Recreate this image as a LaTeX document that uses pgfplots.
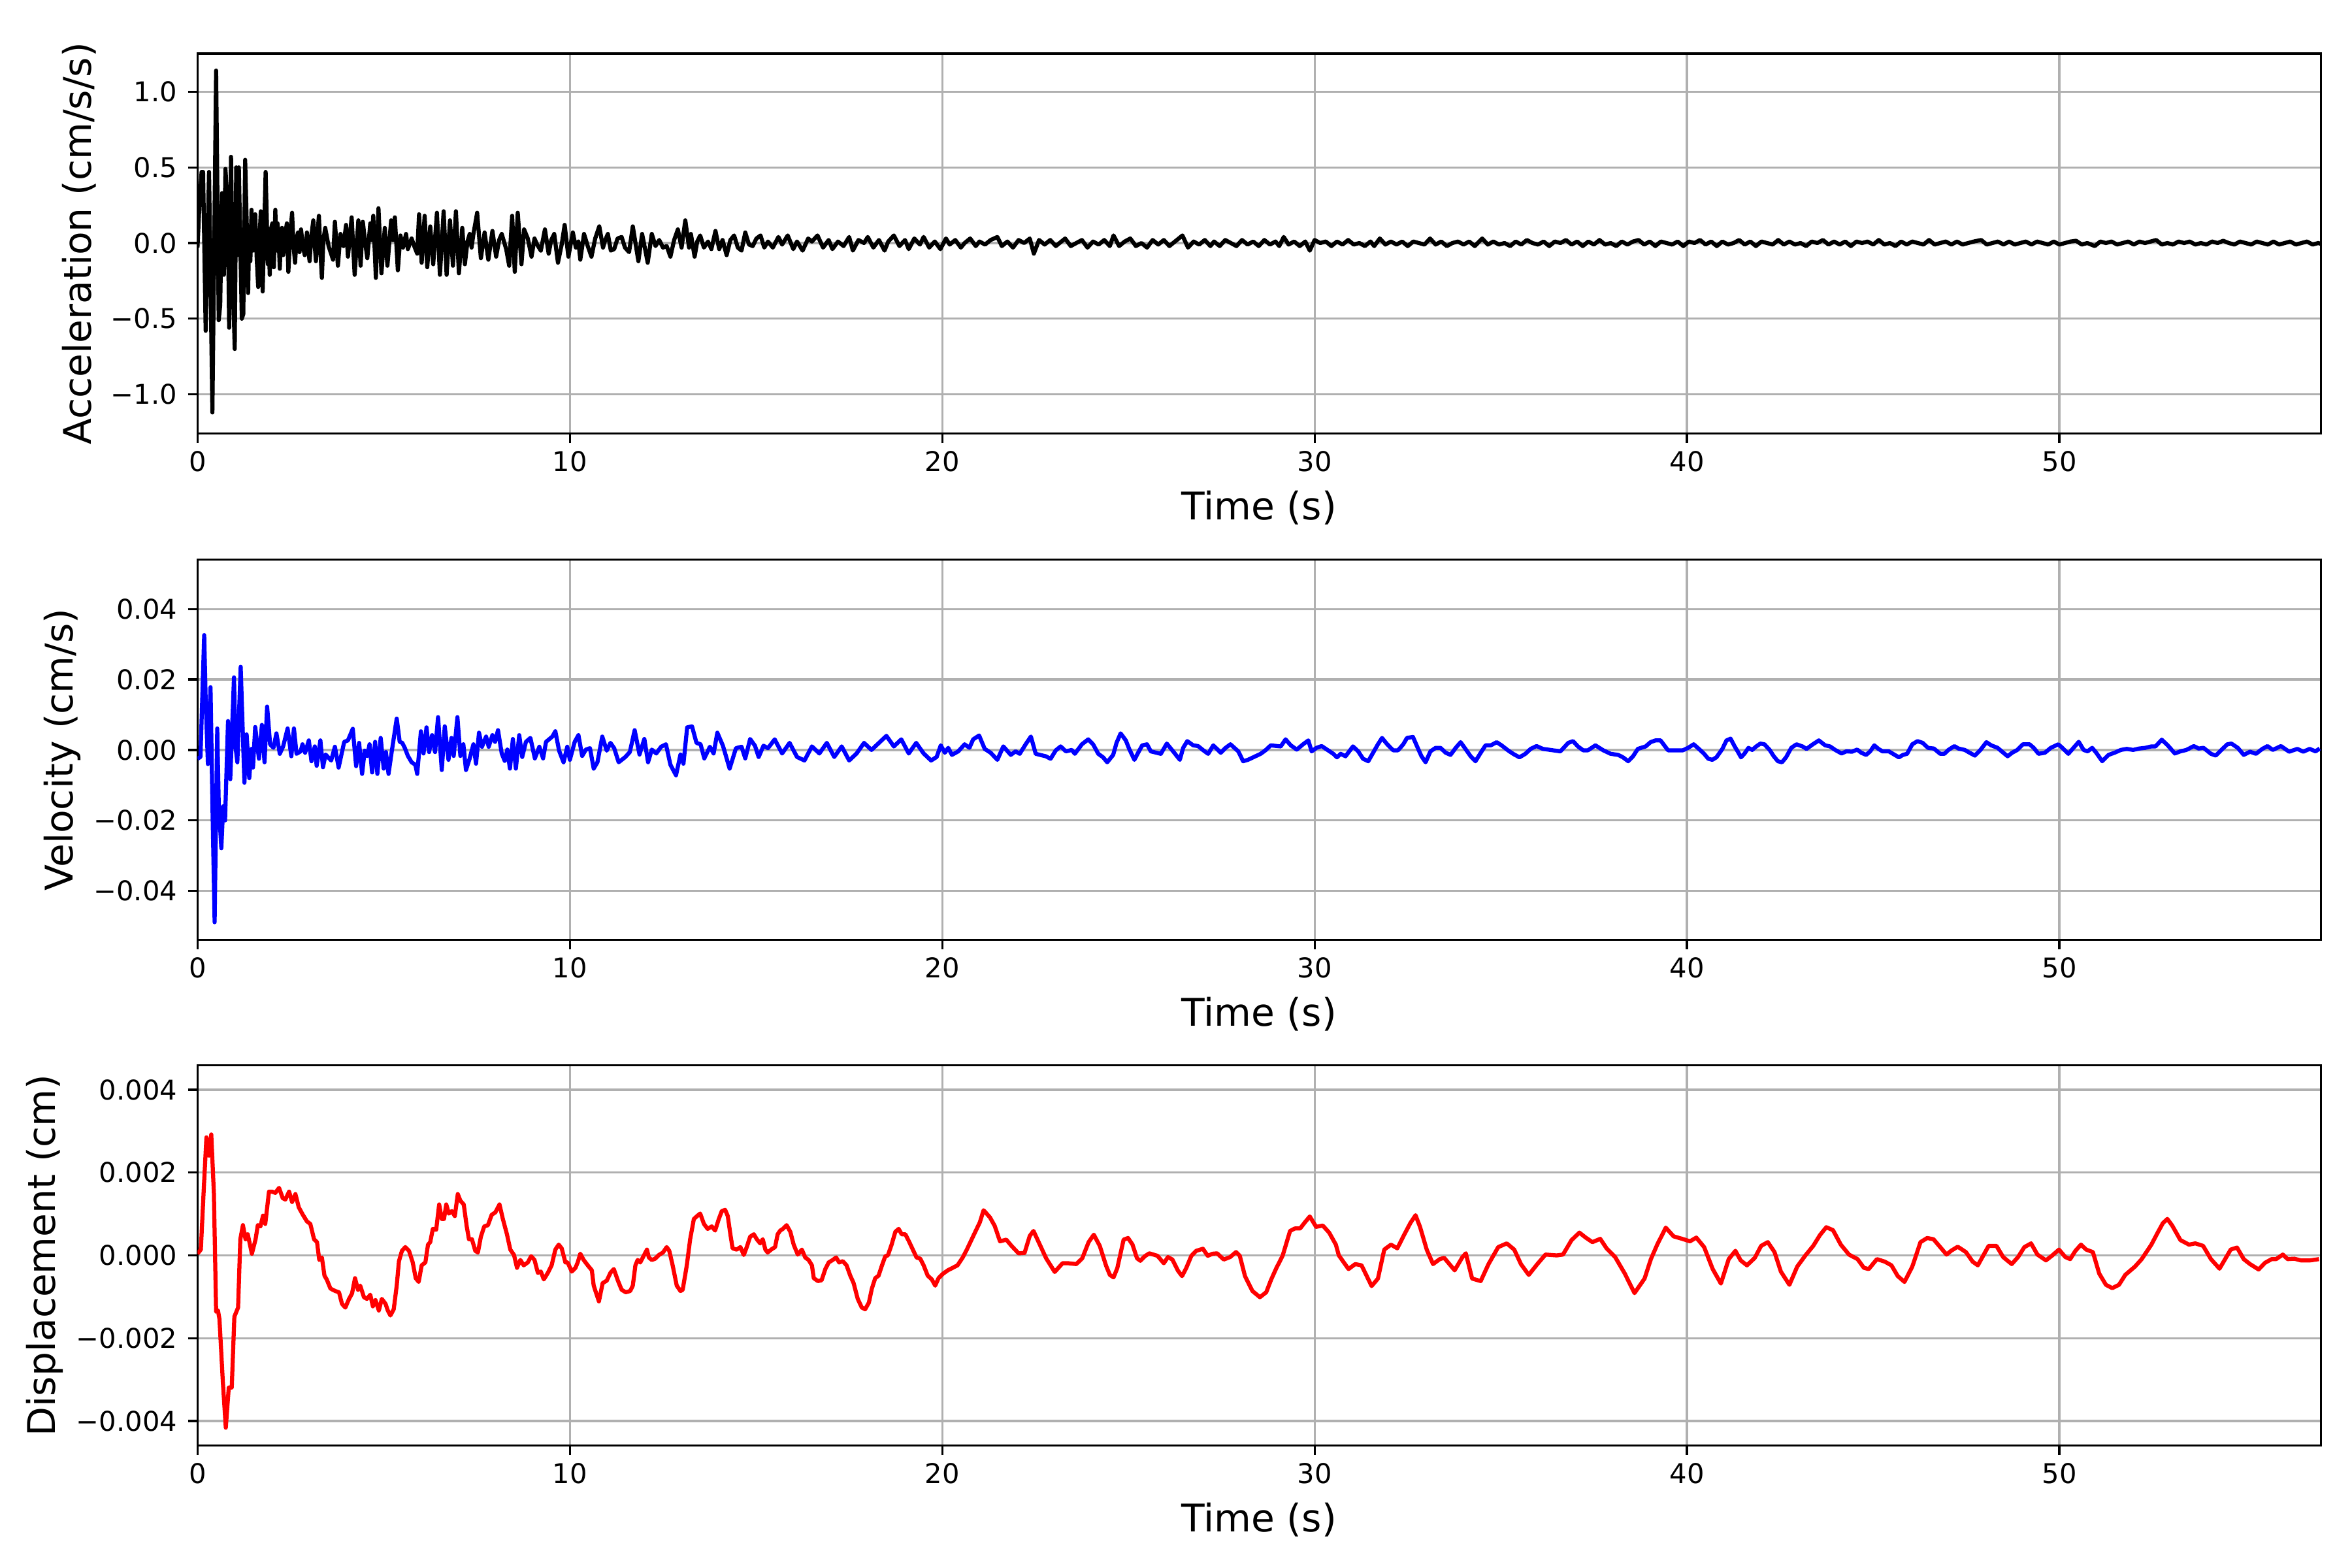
\documentclass[border=0pt]{standalone}
\usepackage{fontspec}
\setmainfont{DejaVu Sans}
\usepackage{pgfplots}
\pgfplotsset{compat=1.18}
\definecolor{gridgray}{HTML}{B0B0B0}
\pgfplotsset{
  mpl/.style={
    scale only axis, width=779.98bp, height=139.66bp,
    anchor=south west,
    xmin=0, xmax=57.02,
    axis line style={line width=0.8bp, black},
    xtick={0,10,20,30,40,50}, xticklabels={0,10,20,30,40,50},
    xtick pos=left, ytick pos=left,
    scaled y ticks=false, scaled x ticks=false,
    tick align=outside, major tick length=3.5bp,
    tick style={line width=0.8bp, black},
    grid=major, grid style={line width=0.8bp, gridgray},
    tick label style={font=\fontsize{10bp}{12bp}\selectfont},
    xticklabel style={anchor=north, inner sep=0pt, yshift=-2.8bp},
    yticklabel style={anchor=east, inner sep=0pt, xshift=-3.8bp},
    label style={font=\fontsize{14bp}{17bp}\selectfont},
    xlabel={Time (s)},
    xlabel style={at={(axis description cs:0.5,0)}, anchor=north, inner sep=0pt, yshift=-20.8bp},
    ylabel style={anchor=center, inner sep=0pt},
  },
  dat/.style={line width=1.5bp, line join=round}
}
\begin{document}
\begin{tikzpicture}
\path[use as bounding box] (0,0) rectangle (864bp,576bp);

% ---------------- Acceleration ----------------
\begin{axis}[mpl, at={(72.55bp,416.69bp)},
  ymin=-1.26, ymax=1.253,
  ytick={-1,-0.5,0,0.5,1}, yticklabels={−1.0,−0.5,0.0,0.5,1.0},
  ylabel={Acceleration (cm/s/s)},
  ylabel style={at={([xshift=-43.35bp]axis description cs:0,0.5)}}]
\addplot[dat, black] table {
t a
0.00 -0.03
0.05 0.24
0.11 0.47
0.15 0.47
0.22 -0.58
0.31 0.47
0.40 -1.12
0.50 1.14
0.57 -0.51
0.61 -0.41
0.66 0.33
0.71 -0.21
0.75 0.49
0.81 0.26
0.85 -0.56
0.90 0.57
0.95 -0.25
1.00 -0.70
1.04 0.50
1.07 -0.08
1.11 0.50
1.19 -0.50
1.23 -0.47
1.28 0.55
1.33 0.05
1.36 -0.33
1.39 0.11
1.42 -0.12
1.45 0.22
1.49 -0.05
1.52 0.10
1.55 0.19
1.59 -0.10
1.63 -0.29
1.67 0.05
1.70 0.21
1.75 -0.32
1.79 0.08
1.83 0.47
1.89 -0.14
1.91 0.05
1.94 -0.21
1.98 0.10
2.01 0.13
2.05 -0.16
2.09 0.22
2.12 -0.05
2.15 0.13
2.18 0.03
2.21 -0.17
2.24 0.04
2.27 0.10
2.30 -0.08
2.33 -0.03
2.37 0.08
2.40 0.13
2.44 -0.19
2.49 0.05
2.54 0.20
2.58 -0.02
2.62 -0.13
2.66 0.03
2.70 0.07
2.74 -0.06
2.78 0.09
2.83 -0.02
2.88 -0.08
2.94 0.07
2.97 -0.03
3.01 -0.12
3.06 0.05
3.11 0.15
3.15 -0.02
3.18 -0.12
3.22 0.05
3.26 0.18
3.30 -0.05
3.34 -0.23
3.38 0.02
3.43 0.10
3.52 -0.02
3.64 -0.11
3.69 0.14
3.77 -0.15
3.84 0.06
3.92 -0.02
3.99 0.12
4.04 -0.09
4.14 0.17
4.22 -0.21
4.32 0.15
4.38 -0.15
4.44 0.14
4.50 0.01
4.56 -0.10
4.64 0.13
4.68 0.02
4.72 0.18
4.79 -0.23
4.86 0.23
4.94 -0.20
5.03 0.10
5.10 -0.15
5.20 0.15
5.25 0.02
5.30 0.17
5.38 -0.18
5.45 0.05
5.52 -0.03
5.60 0.06
5.65 -0.04
5.75 0.03
5.82 -0.02
5.90 -0.07
5.95 0.19
6.02 -0.13
6.10 0.18
6.17 -0.16
6.25 0.11
6.33 -0.14
6.43 0.20
6.51 -0.21
6.61 0.21
6.69 -0.21
6.78 0.15
6.86 -0.15
6.94 0.21
7.02 -0.20
7.11 0.10
7.18 -0.14
7.25 0.01
7.31 0.06
7.36 -0.03
7.41 0.06
7.51 0.20
7.61 -0.10
7.71 0.07
7.81 -0.11
7.92 0.08
8.02 -0.09
8.10 0.02
8.17 0.06
8.29 -0.04
8.37 -0.15
8.45 0.18
8.52 -0.19
8.60 0.20
8.70 -0.14
8.77 0.09
8.87 0.03
8.97 -0.09
9.05 0.03
9.12 -0.01
9.22 -0.05
9.33 0.09
9.43 -0.07
9.50 0.02
9.58 0.06
9.68 -0.13
9.78 -0.01
9.86 0.12
9.96 -0.09
10.08 0.07
10.16 -0.03
10.23 0.01
10.28 -0.11
10.38 0.06
10.48 -0.02
10.58 -0.09
10.68 0.03
10.79 0.11
10.89 -0.03
10.95 0.02
11.02 0.06
11.10 -0.05
11.19 -0.04
11.28 0.03
11.39 0.04
11.48 -0.03
11.59 -0.06
11.69 0.11
11.84 -0.12
11.94 0.06
12.02 -0.04
12.09 -0.13
12.20 0.06
12.30 -0.02
12.40 0.02
12.50 -0.03
12.60 -0.02
12.70 -0.09
12.80 0.02
12.90 0.09
13.00 -0.03
13.10 0.15
13.20 -0.03
13.25 0.06
13.35 -0.09
13.42 0.01
13.50 0.05
13.60 -0.03
13.71 0.01
13.80 -0.04
13.91 0.08
14.01 -0.04
14.10 0.02
14.21 -0.08
14.31 0.02
14.41 0.05
14.51 -0.03
14.61 -0.05
14.71 0.07
14.81 -0.01
14.91 -0.02
15.01 0.03
15.12 0.05
15.22 -0.03
15.32 0.01
15.45 -0.03
15.6 0.04
15.7 -0.01
15.85 0.05
16.0 -0.04
16.1 0.01
16.25 -0.05
16.4 0.03
16.5 0.01
16.65 0.05
16.8 -0.03
16.95 0.02
17.05 -0.04
17.2 0.01
17.35 -0.02
17.5 0.04
17.6 -0.05
17.75 0.02
17.9 0.00
18.0 0.04
18.15 -0.03
18.3 0.02
18.45 -0.05
18.55 0.01
18.7 0.05
18.85 -0.02
19.0 0.02
19.1 -0.04
19.25 0.03
19.4 -0.01
19.5 0.04
19.65 -0.03
19.8 0.01
19.95 -0.04
20.1 0.03
20.2 -0.01
20.35 0.02
20.5 -0.03
20.6 0.00
20.75 0.03
20.9 -0.02
21.0 0.01
21.15 -0.01
21.3 0.02
21.48 0.04
21.6 -0.02
21.75 0.01
21.9 -0.03
22.05 0.02
22.2 0.00
22.35 0.03
22.46 -0.07
22.6 0.02
22.75 -0.01
22.9 0.02
23.05 -0.02
23.2 0.01
23.3 0.03
23.45 -0.02
23.6 0.00
23.75 0.02
23.9 -0.03
24.05 0.01
24.2 -0.01
24.35 0.02
24.5 -0.02
24.6 0.05
24.75 -0.02
24.9 0.01
25.05 0.03
25.2 -0.02
25.35 0.00
25.5 -0.03
25.65 0.02
25.8 -0.01
25.95 0.02
26.1 -0.02
26.25 0.01
26.45 0.05
26.6 -0.03
26.75 0.01
26.9 -0.01
27.05 0.02
27.2 -0.02
27.3 0.01
27.45 -0.02
27.6 0.02
27.75 0.00
27.9 -0.02
28.05 0.02
28.2 -0.01
28.35 0.01
28.5 -0.02
28.65 0.02
28.8 -0.01
28.95 0.01
29.05 -0.02
29.17 0.04
29.3 -0.01
29.45 0.01
29.6 -0.02
29.75 0.01
29.87 -0.05
30.0 0.02
30.15 0.00
30.3 0.01
30.45 -0.02
30.6 0.01
30.75 -0.01
30.9 0.02
31.05 -0.01
31.2 0.00
31.35 -0.02
31.5 0.01
31.6 -0.02
31.75 0.03
31.9 -0.01
32.05 0.01
32.2 -0.01
32.35 0.01
32.5 -0.02
32.65 0.01
32.8 0.00
32.95 -0.01
33.1 0.03
33.25 -0.01
33.4 0.01
33.55 -0.02
33.7 0.00
33.85 0.01
34.0 -0.01
34.15 0.01
34.3 -0.02
34.5 0.03
34.65 -0.01
34.8 0.01
34.95 -0.01
35.1 0.00
35.25 -0.02
35.4 0.01
35.55 -0.01
35.7 0.02
35.85 0.00
36.0 -0.01
36.15 0.01
36.3 -0.02
36.45 0.01
36.6 0.00
36.75 0.02
36.9 -0.01
37.05 0.01
37.2 -0.02
37.35 0.01
37.5 -0.01
37.65 0.02
37.8 -0.01
37.95 0.00
38.1 -0.02
38.25 0.01
38.4 -0.01
38.55 0.01
38.7 0.02
38.85 -0.01
39.0 0.01
39.15 -0.02
39.3 0.01
39.45 0.00
39.6 -0.01
39.75 0.01
39.9 -0.02
40.05 0.01
40.2 0.00
40.35 0.02
40.5 -0.01
40.65 0.01
40.8 -0.02
40.95 0.01
41.1 -0.01
41.25 0.00
41.4 0.02
41.55 -0.01
41.7 0.01
41.85 -0.02
42.0 0.01
42.15 0.00
42.3 -0.01
42.45 0.02
42.6 -0.01
42.75 0.01
42.9 -0.01
43.05 0.00
43.2 -0.02
43.35 0.01
43.5 0.00
43.65 0.02
43.8 -0.01
43.95 0.01
44.1 -0.01
44.25 0.01
44.4 -0.02
44.55 0.01
44.7 0.00
44.85 0.01
45.0 -0.01
45.15 0.02
45.3 -0.01
45.45 0.00
45.6 -0.02
45.75 0.01
45.9 -0.01
46.05 0.01
46.2 0.00
46.35 -0.01
46.5 0.02
46.65 -0.01
46.8 0.00
46.95 0.01
47.1 -0.01
47.25 0.01
47.4 -0.01
47.55 0.00
47.7 0.01
47.9 0.02
48.05 -0.01
48.2 0.00
48.35 0.01
48.5 -0.01
48.65 0.01
48.8 -0.01
48.95 0.00
49.1 0.01
49.25 -0.01
49.4 0.01
49.55 0.00
49.7 -0.01
49.85 0.01
50.0 -0.01
50.15 0.00
50.3 0.01
50.45 0.015
50.6 -0.01
50.75 0.00
50.95 -0.02
51.1 0.01
51.25 0.00
51.4 0.01
51.55 -0.01
51.7 0.00
51.85 0.01
52.0 -0.01
52.15 0.01
52.3 0.00
52.45 0.01
52.6 0.02
52.75 -0.01
52.9 0.00
53.05 -0.01
53.2 0.01
53.35 0.00
53.5 0.01
53.65 -0.01
53.8 0.00
53.95 -0.01
54.1 0.01
54.25 0.00
54.4 0.015
54.55 0.00
54.7 -0.01
54.85 0.01
55.0 0.00
55.15 -0.01
55.3 0.01
55.45 0.00
55.6 -0.01
55.75 0.01
55.9 -0.01
56.05 0.00
56.2 0.01
56.35 -0.01
56.5 0.00
56.65 0.01
56.8 -0.01
56.95 0.00
57.02 -0.005
};
\end{axis}

% ---------------- Velocity ----------------
\begin{axis}[mpl, at={(72.55bp,230.81bp)},
  ymin=-0.05387, ymax=0.05407,
  ytick={-0.04,-0.02,0,0.02,0.04}, yticklabels={−0.04,−0.02,0.00,0.02,0.04},
  ylabel={Velocity (cm/s)},
  ylabel style={at={([xshift=-49.75bp]axis description cs:0,0.5)}}]
\addplot[dat, blue] table {
t v
0.00 -0.0025
0.08 -0.002
0.18 0.0326
0.22 0.014
0.28 -0.004
0.35 0.0178
0.40 -0.015
0.46 -0.0489
0.53 0.0061
0.57 -0.015
0.64 -0.0279
0.69 -0.016
0.74 -0.020
0.82 0.0082
0.88 -0.0083
0.98 0.0206
1.02 0.001
1.07 -0.0035
1.16 0.0236
1.26 -0.0093
1.32 0.0044
1.39 -0.008
1.45 0.0003
1.49 -0.005
1.55 0.0065
1.65 -0.0025
1.73 0.0071
1.80 -0.0035
1.87 0.0123
1.95 0.0016
2.04 0.0006
2.12 0.0047
2.21 -0.0011
2.30 0.001
2.42 0.0061
2.52 -0.0018
2.59 0.0061
2.66 -0.0011
2.77 -0.0004
2.82 0.0016
2.89 -0.0008
2.99 0.0027
3.06 -0.0032
3.15 0.001
3.20 -0.0045
3.30 0.0027
3.37 -0.0049
3.44 -0.0013
3.59 -0.003
3.69 0.0009
3.79 -0.005
3.94 0.0023
4.04 0.0027
4.17 0.006
4.26 -0.0046
4.34 0.002
4.42 -0.0068
4.49 -0.0002
4.56 -0.0017
4.62 0.0016
4.69 -0.0064
4.77 0.0023
4.83 -0.0068
4.92 0.0034
5.00 -0.0053
5.06 -0.0006
5.13 -0.0068
5.22 -0.0002
5.35 0.0089
5.43 0.0023
5.50 0.002
5.57 0.0005
5.65 -0.0017
5.75 -0.0035
5.85 -0.0042
5.90 -0.0068
6.00 0.0053
6.07 -0.001
6.15 0.0064
6.22 -0.0006
6.30 0.0042
6.38 -0.0006
6.46 0.0093
6.56 -0.0057
6.64 0.0067
6.74 -0.0028
6.82 0.0034
6.88 -0.0017
6.98 0.0093
7.06 -0.0017
7.14 0.0016
7.21 -0.0057
7.31 -0.0024
7.41 0.0016
7.48 -0.0039
7.56 0.0049
7.64 0.0009
7.75 0.0038
7.82 0.0009
7.92 0.0042
7.99 0.0023
8.07 0.0056
8.17 -0.001
8.25 -0.0031
8.32 0.0001
8.39 -0.0053
8.47 0.0031
8.55 -0.0053
8.64 0.0042
8.72 -0.002
8.82 0.0023
8.94 0.0034
9.06 -0.0024
9.18 0.0009
9.28 -0.0024
9.36 0.0023
9.53 0.0038
9.61 0.0053
9.71 -0.0002
9.83 -0.0035
9.93 0.0009
10.00 -0.0028
10.13 0.0023
10.23 0.0042
10.33 -0.0017
10.43 0.0001
10.54 0.0005
10.64 -0.0053
10.74 -0.0035
10.87 0.0038
10.99 -0.0002
11.09 0.002
11.19 0.0005
11.31 -0.0035
11.49 -0.002
11.61 -0.0006
11.74 0.0056
11.87 -0.0013
12.00 0.0031
12.10 -0.0035
12.20 0.0001
12.32 -0.001
12.45 0.0009
12.58 0.0016
12.70 -0.0042
12.85 -0.0072
12.97 -0.0013
13.05 -0.0039
13.15 0.0064
13.28 0.0067
13.40 0.002
13.51 0.0016
13.61 -0.0024
13.76 0.0009
13.86 -0.001
13.96 0.0049
14.11 0.0012
14.29 -0.0053
14.46 0.0005
14.61 0.0009
14.71 -0.0024
14.84 0.0031
14.97 0.0012
15.07 -0.002
15.20 0.0012
15.32 0.0005
15.5 0.003
15.7 -0.001
15.9 0.002
16.1 -0.002
16.3 -0.003
16.5 0.001
16.7 -0.001
16.9 0.002
17.1 -0.002
17.3 0.001
17.5 -0.003
17.7 -0.001
17.9 0.002
18.1 0.0
18.3 0.002
18.5 0.004
18.7 0.001
18.9 0.003
19.1 -0.001
19.3 0.002
19.5 -0.001
19.7 -0.003
19.85 -0.002
19.96 0.0013
20.07 -0.0008
20.16 0.0006
20.26 -0.0014
20.43 -0.0004
20.60 0.0016
20.73 0.0006
20.83 0.003
20.99 0.0041
21.14 0.0003
21.30 -0.0008
21.48 -0.0028
21.64 0.001
21.84 -0.0014
21.97 -0.0004
22.08 -0.0011
22.24 0.0016
22.38 0.0038
22.51 -0.0011
22.78 -0.0018
22.91 -0.0025
23.05 -0.0001
23.18 0.001
23.32 -0.0004
23.48 0
23.56 -0.0011
23.75 0.0016
23.92 0.003
24.05 0.0016
24.19 -0.0011
24.32 -0.0021
24.43 -0.0035
24.59 -0.0014
24.68 0.002
24.79 0.0047
24.93 0.0027
25.02 0.0003
25.16 -0.0028
25.26 -0.0008
25.37 0.0013
25.50 0.0016
25.60 -0.0004
25.87 -0.0011
26.03 0.0018
26.23 -0.0008
26.38 -0.0028
26.47 0.0006
26.58 0.0025
26.74 0.0013
26.87 0.0011
27.01 -0.0001
27.14 -0.0011
27.28 0.0013
27.48 -0.0008
27.61 0.0006
27.74 0.0016
27.95 -0.0004
28.08 -0.0032
28.21 -0.0028
28.35 -0.0021
28.55 -0.0011
28.68 -0.0001
28.82 0.0013
29.09 0.001
29.22 0.003
29.36 0.0013
29.52 0.0001
29.69 0.0016
29.83 0.0027
29.92 -0.0004
30.05 0.0006
30.19 0.0011
30.36 -0.0001
30.50 -0.0011
30.60 -0.0021
30.70 -0.0011
30.83 -0.0018
31.03 0.001
31.17 -0.0004
31.30 -0.0025
31.44 -0.0032
31.57 -0.0008
31.70 0.0016
31.81 0.0034
31.95 0.0016
32.11 -0.0001
32.24 -0.0001
32.38 0.0016
32.48 0.0034
32.64 0.0037
32.78 0.0003
32.87 -0.0018
32.98 -0.0035
33.11 -0.0004
33.25 0.0006
33.38 0.0006
33.52 -0.0008
33.65 -0.0014
33.79 0.0006
33.92 0.0022
34.05 0.0003
34.19 -0.0018
34.32 -0.0032
34.46 -0.0008
34.59 0.0013
34.73 0.0013
34.89 0.0022
35.02 0.0013
35.19 -0.0001
35.33 -0.0011
35.50 -0.0021
35.66 -0.0011
35.80 0.0003
35.96 0.0011
36.13 0.0003
36.40 -0.0001
36.60 -0.0004
36.81 0.002
36.94 0.0025
37.07 0.001
37.21 -0.0001
37.34 -0.0001
37.54 0.0013
37.75 -0.0001
37.95 -0.0011
38.15 -0.0014
38.28 -0.0021
38.42 -0.0032
38.55 -0.0018
38.68 0.0003
38.89 0.001
39.02 0.0022
39.15 0.0027
39.29 0.0027
39.49 -0.0001
39.69 -0.0001
39.89 -0.0001
40.03 0.0006
40.18 0.0016
40.35 0
40.46 -0.0011
40.57 -0.0025
40.68 -0.0028
40.79 -0.0021
40.95 0.0003
41.06 0.0027
41.17 0.0032
41.28 0.001
41.36 -0.0004
41.45 -0.0021
41.54 -0.0011
41.65 0.0006
41.75 0
41.86 0.001
41.97 0.0018
42.08 0.0016
42.22 0
42.33 -0.0018
42.44 -0.0032
42.55 -0.0035
42.66 -0.0021
42.80 0.0006
42.94 0.0016
43.10 0.001
43.21 0.0003
43.38 0.0016
43.54 0.0027
43.71 0.0013
43.84 0.001
43.98 0
44.15 -0.001
44.28 -0.0004
44.43 -0.0005
44.57 0.0001
44.68 -0.0008
44.81 -0.0014
44.92 -0.0004
45.03 0.0013
45.14 0.0003
45.25 -0.0004
45.42 -0.0004
45.53 -0.0011
45.69 -0.0021
45.80 -0.0014
45.91 -0.0011
46.05 0.0016
46.19 0.0025
46.33 0.002
46.47 0.0006
46.63 0.0004
46.80 -0.0011
46.91 -0.0011
47.02 0
47.18 0.0011
47.29 0.0004
47.46 0
47.59 -0.0008
47.73 -0.0016
47.88 0
48.04 0.0022
48.17 0.0013
48.34 0.0006
48.45 -0.0004
48.61 -0.0018
48.73 -0.0008
48.87 0
49.02 0.0016
49.20 0.0016
49.31 0.0006
49.44 -0.0011
49.61 -0.0008
49.77 0.0006
49.97 0.0016
50.08 0.0006
50.24 -0.0011
50.38 0.0006
50.52 0.0023
50.65 0
50.76 -0.0004
50.88 0.0006
50.99 -0.0008
51.15 -0.0032
51.32 -0.0014
51.48 -0.0008
51.65 0
51.81 0.0003
51.98 0
52.14 0.0004
52.31 0.0006
52.47 0.001
52.58 0.001
52.75 0.0029
52.91 0.0013
53.10 -0.001
53.25 -0.0004
53.41 0
53.61 0.0011
53.74 0.0004
53.87 0.0006
54.07 -0.0011
54.20 -0.0016
54.35 0
54.51 0.0016
54.62 0.0018
54.79 0.0006
54.95 -0.0014
55.12 -0.0005
55.28 -0.0011
55.45 0.0003
55.59 0.0011
55.73 0
55.95 0.0011
56.17 -0.0005
56.39 0.0003
56.55 -0.0005
56.72 0.0003
56.88 -0.0004
56.99 0.0004
};
\end{axis}

% ---------------- Displacement ----------------
\begin{axis}[mpl, at={(72.55bp,45.0bp)},
  ymin=-0.00459, ymax=0.00459,
  ytick={-0.004,-0.002,0,0.002,0.004}, yticklabels={−0.004,−0.002,0.000,0.002,0.004},
  ylabel={Displacement (cm)},
  ylabel style={at={([xshift=-56.15bp]axis description cs:0,0.5)}}]
\addplot[dat, red] table {
t d
0.00 0.00004
0.09 0.00014
0.17 0.00163
0.24 0.00285
0.31 0.00241
0.37 0.00292
0.44 0.00151
0.50 -0.00136
0.55 -0.00133
0.59 -0.00154
0.68 -0.00304
0.76 -0.00416
0.84 -0.00319
0.92 -0.00319
0.99 -0.00148
1.09 -0.00126
1.15 0.00039
1.22 0.00073
1.29 0.00039
1.35 0.00051
1.46 0.00004
1.56 0.00039
1.62 0.00073
1.69 0.00070
1.76 0.00096
1.82 0.00076
1.92 0.00154
2.00 0.00154
2.09 0.00151
2.19 0.00163
2.29 0.00138
2.36 0.00135
2.46 0.00154
2.54 0.00129
2.63 0.00148
2.72 0.00116
2.83 0.00098
2.94 0.00082
3.03 0.00076
3.13 0.00039
3.21 0.00032
3.27 -0.00011
3.34 -0.00005
3.41 -0.00049
3.47 -0.00058
3.57 -0.00080
3.70 -0.00086
3.80 -0.00089
3.88 -0.00117
3.97 -0.00126
4.07 -0.00105
4.15 -0.00092
4.23 -0.00055
4.31 -0.00083
4.37 -0.00073
4.47 -0.00101
4.55 -0.00105
4.64 -0.00095
4.71 -0.00123
4.78 -0.00108
4.87 -0.00133
4.95 -0.00105
5.05 -0.00117
5.11 -0.00133
5.18 -0.00145
5.27 -0.00130
5.35 -0.00073
5.41 -0.00014
5.49 0.00011
5.58 0.00020
5.68 0.00011
5.78 -0.00017
5.86 -0.00055
5.94 -0.00064
6.02 -0.00024
6.12 -0.00017
6.19 0.00026
6.25 0.00032
6.32 0.00064
6.41 0.00062
6.49 0.00123
6.56 0.00088
6.62 0.00088
6.68 0.00123
6.75 0.00101
6.83 0.00107
6.91 0.00095
6.99 0.00148
7.06 0.00132
7.15 0.00123
7.23 0.00070
7.29 0.00039
7.37 0.00039
7.46 0.00011
7.53 0.00007
7.61 0.00045
7.70 0.00070
7.80 0.00073
7.90 0.00098
8.00 0.00104
8.11 0.00123
8.20 0.00088
8.31 0.00051
8.40 0.00014
8.50 0.00001
8.58 -0.00030
8.67 -0.00011
8.76 -0.00024
8.87 -0.00017
8.96 -0.00002
9.05 -0.00011
9.14 -0.00042
9.22 -0.00039
9.30 -0.00058
9.41 -0.00042
9.51 -0.00024
9.61 0.00014
9.70 0.00026
9.78 0.00017
9.88 -0.00017
9.94 -0.00017
10.05 -0.00039
10.15 -0.00030
10.21 -0.00017
10.28 0.00004
10.37 -0.00011
10.48 -0.00024
10.59 -0.00036
10.64 -0.00073
10.78 -0.00111
10.88 -0.00067
10.99 -0.00061
11.09 -0.00042
11.18 -0.00033
11.29 -0.00061
11.39 -0.00083
11.50 -0.00089
11.62 -0.00086
11.69 -0.00073
11.76 -0.00024
11.82 -0.00011
11.89 -0.00017
11.96 -0.00005
12.07 0.00014
12.12 -0.00005
12.20 -0.00011
12.29 -0.00008
12.39 0.00001
12.50 0.00007
12.60 0.00020
12.67 0.00011
12.76 -0.00024
12.87 -0.00073
12.97 -0.00086
13.03 -0.00083
13.14 -0.00024
13.23 0.00039
13.33 0.00088
13.43 0.00096
13.50 0.00101
13.60 0.00076
13.70 0.00064
13.81 0.00070
13.90 0.00060
14.00 0.00088
14.08 0.00107
14.17 0.00110
14.24 0.00095
14.31 0.00051
14.37 0.00017
14.48 0.00014
14.58 0.00020
14.67 0.00001
14.75 0.00020
14.84 0.00045
14.94 0.00051
15.02 0.00039
15.11 0.00029
15.18 0.00039
15.25 0.00014
15.31 0.00007
15.42 0.00015
15.51 0.00020
15.58 0.00051
15.65 0.00060
15.72 0.00064
15.82 0.00073
15.92 0.00057
16.01 0.00026
16.12 0.00002
16.23 0.00014
16.32 -0.00005
16.41 -0.00011
16.50 -0.00024
16.55 -0.00055
16.66 -0.00062
16.76 -0.00060
16.86 -0.00033
16.95 -0.00017
17.06 -0.00011
17.15 -0.00005
17.23 -0.00017
17.33 -0.00014
17.43 -0.00024
17.53 -0.00049
17.62 -0.00067
17.73 -0.00105
17.84 -0.00126
17.93 -0.00130
18.03 -0.00114
18.11 -0.00080
18.20 -0.00055
18.29 -0.00049
18.37 -0.00027
18.47 -0.00002
18.54 0.00000
18.64 0.00026
18.74 0.00057
18.83 0.00064
18.91 0.00051
19.01 0.00051
19.10 0.00035
19.21 0.00014
19.31 -0.00005
19.41 -0.00008
19.50 -0.00024
19.61 -0.00049
19.72 -0.00058
19.81 -0.00073
19.90 -0.00055
20.01 -0.00045
20.15 -0.00036
20.28 -0.00030
20.41 -0.00024
20.55 -0.00005
20.66 0.00014
20.85 0.00050
21.01 0.00080
21.11 0.00109
21.28 0.00092
21.41 0.00071
21.55 0.00034
21.72 0.00038
21.85 0.00024
22.05 0.00005
22.21 0.00006
22.35 0.00047
22.45 0.00059
22.62 0.00026
22.79 -0.00007
23.02 -0.00040
23.23 -0.00019
23.39 -0.00019
23.60 -0.00021
23.76 -0.00007
23.93 0.00032
24.07 0.00050
24.23 0.00023
24.40 -0.00025
24.50 -0.00047
24.60 -0.00053
24.70 -0.00031
24.87 0.00038
24.99 0.00042
25.11 0.00026
25.23 -0.00007
25.32 -0.00013
25.44 -0.00002
25.56 0.00005
25.78 -0.00001
25.95 -0.00019
26.06 -0.00004
26.18 -0.00010
26.33 -0.00037
26.44 -0.00050
26.55 -0.00031
26.69 -0.00001
26.82 0.00011
27.00 0.00016
27.13 -0.00001
27.26 0.00004
27.38 0.00005
27.56 -0.00010
27.73 -0.00004
27.89 0.00008
27.99 -0.00001
28.13 -0.00050
28.33 -0.00086
28.53 -0.00101
28.70 -0.00089
28.83 -0.00059
28.97 -0.00031
29.14 -0.00001
29.34 0.00059
29.47 0.00065
29.61 0.00065
29.74 0.00080
29.87 0.00094
30.04 0.00069
30.22 0.00072
30.39 0.00055
30.57 0.00026
30.65 0.00000
30.91 -0.00033
31.09 -0.00021
31.26 -0.00024
31.53 -0.00074
31.70 -0.00056
31.87 0.00014
32.05 0.00026
32.22 0.00017
32.40 0.00049
32.57 0.00078
32.71 0.00097
32.83 0.00069
33.01 0.00014
33.18 -0.00021
33.36 -0.00009
33.48 -0.00006
33.76 -0.00036
33.97 -0.00004
34.06 0.00005
34.23 -0.00056
34.46 -0.00062
34.67 -0.00021
34.93 0.00020
35.16 0.00029
35.36 0.00014
35.54 -0.00021
35.75 -0.00047
35.98 -0.00021
36.20 0.00002
36.50 0.00000
36.67 0.00002
36.90 0.00037
37.11 0.00055
37.28 0.00043
37.46 0.00032
37.67 0.00040
37.84 0.00017
38.07 -0.00004
38.33 -0.00044
38.59 -0.00091
38.86 -0.00056
39.03 -0.00009
39.20 0.00026
39.43 0.00067
39.64 0.00046
39.87 0.00040
40.08 0.00034
40.25 0.00043
40.46 0.00020
40.69 -0.00033
40.91 -0.00068
41.12 -0.00009
41.30 0.00011
41.44 -0.00012
41.61 -0.00024
41.82 -0.00006
41.99 0.00023
42.17 0.00032
42.35 0.00008
42.52 -0.00039
42.75 -0.00071
42.96 -0.00027
43.18 0.00000
43.39 0.00023
43.57 0.00049
43.74 0.00068
43.92 0.00061
44.13 0.00026
44.35 0.00002
44.58 -0.00009
44.75 -0.00030
44.88 -0.00033
45.10 -0.00009
45.31 -0.00015
45.49 -0.00024
45.66 -0.00050
45.84 -0.00064
46.05 -0.00027
46.27 0.00032
46.45 0.00042
46.62 0.00039
46.80 0.00020
46.97 0.00002
47.09 0.00011
47.27 0.00021
47.49 0.00008
47.67 -0.00015
47.81 -0.00024
47.97 0.00002
48.10 0.00023
48.31 0.00023
48.49 -0.00004
48.72 -0.00021
48.89 -0.00004
49.06 0.00020
49.24 0.00029
49.41 0.00002
49.64 -0.00012
49.81 0.00000
49.99 0.00014
50.16 -0.00004
50.29 -0.00009
50.43 0.00011
50.58 0.00026
50.72 0.00014
50.90 0.00008
51.07 -0.00044
51.25 -0.00071
51.42 -0.00079
51.60 -0.00071
51.77 -0.00047
52.03 -0.00027
52.21 -0.00009
52.47 0.00026
52.64 0.00055
52.78 0.00078
52.90 0.00088
53.03 0.00072
53.25 0.00037
53.48 0.00026
53.65 0.00029
53.86 0.00023
54.07 -0.00009
54.30 -0.00032
54.47 -0.00006
54.60 0.00014
54.77 0.00019
54.95 -0.00009
55.12 -0.00021
55.35 -0.00034
55.52 -0.00018
55.70 -0.00009
55.82 -0.00009
56.00 0.00002
56.13 -0.00009
56.31 -0.00008
56.48 -0.00012
56.74 -0.00012
56.97 -0.00009
};
\end{axis}
\end{tikzpicture}
\end{document}
